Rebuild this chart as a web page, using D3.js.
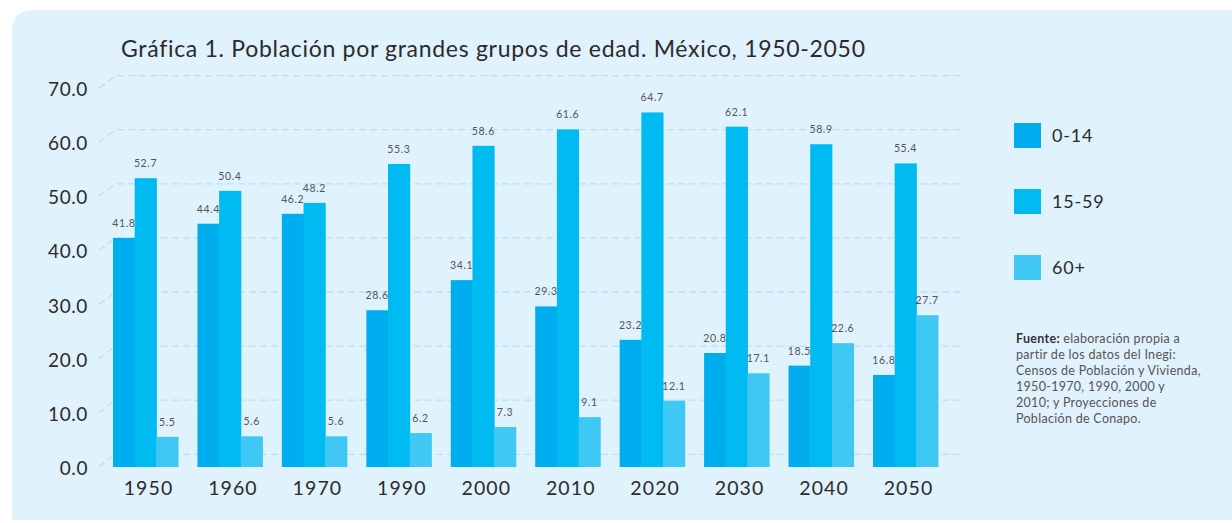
<!DOCTYPE html>
<html>
<head>
<meta charset="utf-8">
<script src="https://cdn.jsdelivr.net/npm/d3@7"></script>
<style>
  body { margin: 0; background: #fff; }
  svg { display: block; font-family: Lato, "Open Sans", sans-serif; }
</style>
</head>
<body>
<div id="visualization"></div>
<script>
// data
const years = ['1950', '1960', '1970', '1990', '2000', '2010', '2020', '2030', '2040', '2050'];
const groups = ['0-14', '15-59', '60+'];
const kids = [41.8, 44.4, 46.2, 28.6, 34.1, 29.3, 23.2, 20.8, 18.5, 16.8];
const adults = [52.7, 50.4, 48.2, 55.3, 58.6, 61.6, 64.7, 62.1, 58.9, 55.4];
const elders = [5.5, 5.6, 5.6, 6.2, 7.3, 9.1, 12.1, 17.1, 22.6, 27.7];
const yTicks = [0, 10, 20, 30, 40, 50, 60, 70];
const colors = ['#00aeef', '#00baf2', '#40c8f4'];
const sourceLines = [
  'elaboración propia a',
  'partir de los datos del Inegi:',
  'Censos de Población y Vivienda,',
  '1950-1970, 1990, 2000 y',
  '2010; y Proyecciones de',
  'Población de Conapo.'
];

const series = [kids, adults, elders];
const width = 1232, height = 523;

const svg = d3.select('#visualization')
  .append('svg')
  .attr('width', width)
  .attr('height', height);

// panel
svg.append('path')
  .attr('d', `M12,${height - 3} L12,32 Q12,10 34,10 L${width},10 L${width},${height - 3} Z`)
  .attr('fill', '#e0f2fb');

svg.append('text')
  .attr('x', 121)
  .attr('y', 57)
  .attr('font-size', 23)
  .attr('letter-spacing', 0.7)
  .attr('fill', '#2b2b2b')
  .text('Gráfica 1. Población por grandes grupos de edad. México, 1950-2050');

// front plane (bars) and back plane (grid)
const y = d3.scaleLinear().domain([0, 70]).range([467, 83.4]);
const yGrid = d3.scaleLinear().domain([0, 70]).range([454.3, 75.6]);

const x = d3.scaleBand().domain(years).range([113, 938]).paddingInner(0.23);
const xSub = d3.scaleBand().domain(groups).range([0, x.bandwidth()]);

// dashed grid with the little slanted start
svg.append('g')
  .selectAll('path')
  .data(yTicks)
  .join('path')
  .attr('d', d => `M99,${yGrid(d) + 12.5} L113,${yGrid(d) + 2} L118,${yGrid(d)} L965,${yGrid(d)}`)
  .attr('fill', 'none')
  .attr('stroke', '#b5e1f7')
  .attr('stroke-width', 1.3)
  .attr('stroke-dasharray', '7,4');

// y labels
const yAxis = svg.append('g')
  .attr('transform', 'translate(88,14)')
  .call(d3.axisLeft(yGrid).tickValues(yTicks).tickSize(0).tickPadding(0).tickFormat(d3.format('.1f')));
yAxis.select('.domain').remove();
yAxis.selectAll('text')
  .attr('font-size', 19)
  .attr('font-family', 'Lato, sans-serif')
  .attr('letter-spacing', 0.6)
  .attr('fill', '#2b2b2b');

// x labels
const xAxis = svg.append('g')
  .attr('transform', 'translate(3,481)')
  .call(d3.axisBottom(x).tickSize(0).tickPadding(0));
xAxis.select('.domain').remove();
xAxis.selectAll('text')
  .attr('font-size', 19.5)
  .attr('font-family', 'Lato, sans-serif')
  .attr('letter-spacing', 1.1)
  .attr('fill', '#2b2b2b');

// bars
const yearGroups = svg.append('g')
  .selectAll('g')
  .data(years)
  .join('g')
  .attr('transform', d => `translate(${x(d)},0)`);

yearGroups.selectAll('rect')
  .data((d, i) => groups.map((g, j) => ({ g, j, v: series[j][i] })))
  .join('rect')
  .attr('x', d => xSub(d.g))
  .attr('width', xSub.bandwidth() + 0.5)
  .attr('y', d => y(d.v))
  .attr('height', d => y(0) - y(d.v))
  .attr('fill', d => colors[d.j]);

yearGroups.selectAll('text')
  .data((d, i) => groups.map((g, j) => ({ g, j, v: series[j][i] })))
  .join('text')
  .attr('x', d => xSub(d.g) + xSub.bandwidth() / 2)
  .attr('y', d => y(d.v) - 11)
  .attr('text-anchor', 'middle')
  .attr('font-size', 10.5)
  .attr('letter-spacing', 0.6)
  .attr('fill', '#555')
  .text(d => d3.format('.1f')(d.v));

// legend
const legend = svg.append('g')
  .selectAll('g')
  .data(groups)
  .join('g')
  .attr('transform', (d, i) => `translate(1014,${123 + i * 66})`);

legend.append('rect')
  .attr('width', 27)
  .attr('height', 25)
  .attr('fill', (d, i) => colors[i]);

legend.append('text')
  .attr('x', 38)
  .attr('y', 13)
  .attr('dy', '0.35em')
  .attr('font-size', 18)
  .attr('letter-spacing', 0.8)
  .attr('fill', '#2b2b2b')
  .text(d => d);

// source note
const note = svg.append('text')
  .attr('x', 1016)
  .attr('y', 343)
  .attr('font-size', 12.5)
  .attr('letter-spacing', 0.3)
  .attr('fill', '#555');

note.selectAll('tspan')
  .data(sourceLines)
  .join('tspan')
  .attr('x', 1016)
  .attr('dy', (d, i) => i === 0 ? 0 : 16)
  .each(function (d, i) {
    const t = d3.select(this);
    if (i === 0) {
      t.append('tspan').attr('font-weight', 'bold').attr('fill', '#333').text('Fuente: ');
      t.append('tspan').text(d);
    } else {
      t.text(d);
    }
  });
</script>
</body>
</html>
